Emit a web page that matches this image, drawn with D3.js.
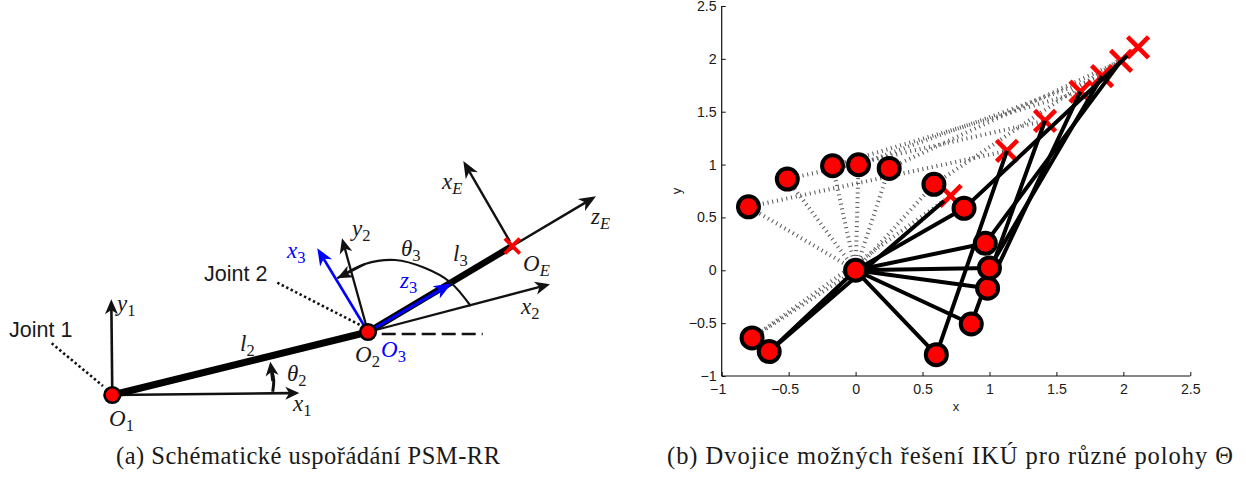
<!DOCTYPE html>
<html><head><meta charset="utf-8">
<script src="https://cdn.jsdelivr.net/npm/d3@7/dist/d3.min.js"></script>
<style>
html,body{margin:0;padding:0;background:#fff;overflow:hidden}
svg{display:block}
text{fill:#1a1a1a}
.sans{font-family:"Liberation Sans",Arial,sans-serif}
.serif{font-family:"Liberation Serif",serif}
.math{font-family:"Liberation Serif",serif;font-style:italic}
</style></head><body>
<svg id="c" width="1246" height="477"></svg>
<script>
// ---- (b) plot data ----
const xTicks=[-1,-0.5,0,0.5,1,1.5,2,2.5];
const yTicks=[-1,-0.5,0,0.5,1,1.5,2,2.5];
const xTickLabels=["\u22121","\u22120.5","0","0.5","1","1.5","2","2.5"];
const yTickLabels=["\u22121","\u22120.5","0","0.5","1","1.5","2","2.5"];
const targetX=[0.71,1.131,1.415,1.68,1.841,1.983,2.11];
const targetY=[0.705,1.13,1.414,1.69,1.836,1.981,2.108];
const upperElbowX=[-0.773,-0.80,-0.51,-0.172,0.022,0.251,0.585];
const upperElbowY=[-0.64,0.60,0.863,0.989,0.998,0.964,0.813];
const lowerElbowX=[-0.645,0.603,0.864,0.986,1.0,0.969,0.81];
const lowerElbowY=[-0.769,-0.798,-0.508,-0.17,0.022,0.255,0.586];
// ---- (a) schematic data (diagram units, O1 at origin, y up) ----
const O1=[0,0], O2=[255.7,63], OE=[400,149];
const x1Tip=[187,2], y1Tip=[-1,95.7];
const x2Tip=[437.7,110.7], y2Tip=[229.7,156.7];
const x3Tip=[205,146.7], z3Tip=[339.4,111.7];
const xEBase=[397.7,153.3], xETip=[351,234], zETip=[483.7,198.7];
const joint1=[[-60.6,51.7],[-9.3,9]], joint2=[[165,112.3],[247.7,70]];
const dashLine=[[269.4,61],[370.4,61]];
const theta2Arc=[[160.4,3.3],[161.4,15],[158,33.3]];
const theta3Arc=[[358.4,89],[337.7,113],[312.7,127],[282.7,135],[252.7,131],[225,116.7]];

const svg=d3.select("#c");
// scales
const xP=d3.scaleLinear().domain([-1,2.5]).range([721.7,1190.3]);
const yP=d3.scaleLinear().domain([-1,2.5]).range([376,6]);
const sx=d3.scaleLinear().domain([0,100]).range([112.3,212.3]);
const sy=d3.scaleLinear().domain([0,100]).range([395,295]);
const P=p=>[sx(p[0]),sy(p[1])];
const line=d3.line().x(d=>d[0]).y(d=>d[1]);

// arrow helper
function arrow(g,a,b,color,w,len,hw){
  const [x0,y0]=P(a),[x1,y1]=P(b);
  const dx=x1-x0,dy=y1-y0,L=Math.hypot(dx,dy),ux=dx/L,uy=dy/L;
  g.append("line").attr("x1",x0).attr("y1",y0).attr("x2",x1-ux*len*0.7).attr("y2",y1-uy*len*0.7)
    .attr("stroke",color).attr("stroke-width",w);
  const bx=x1-ux*len,by=y1-uy*len,ix=x1-ux*len*0.72,iy=y1-uy*len*0.72;
  g.append("path").attr("d",`M${x1},${y1}L${bx-uy*hw},${by+ux*hw}L${ix},${iy}L${bx+uy*hw},${by-ux*hw}Z`).attr("fill",color);
}
function cross(g,cx,cy,r,w){
  [[-1,-1,1,1],[-1,1,1,-1]].forEach(s=>g.append("line")
    .attr("x1",cx+s[0]*r).attr("y1",cy+s[1]*r).attr("x2",cx+s[2]*r).attr("y2",cy+s[3]*r)
    .attr("stroke","#ff0000").attr("stroke-width",w));
}
function mathLabel(g,x,y,base,sub,color,size){
  const t=g.append("text").attr("x",x).attr("y",y).attr("class","math").style("font-size",size+"px").style("fill",color||"#1a1a1a");
  t.append("tspan").text(base);
  if(sub) t.append("tspan").attr("dy",size*0.22).style("font-size",size*0.72+"px").style("font-style",/[0-9]/.test(sub)?"normal":"italic").text(sub);
}

// ---------- (a) ----------
const a=svg.append("g");
[joint1,joint2].forEach(j=>a.append("path").attr("d",line(j.map(P))).attr("fill","none")
  .attr("stroke","#111").attr("stroke-width",2.6).attr("stroke-dasharray","2.4 2.6"));
a.append("path").attr("d",line(dashLine.map(P))).attr("stroke","#111").attr("stroke-width",2.4).attr("stroke-dasharray","14 6").attr("fill","none");
arrow(a,O1,x1Tip,"#111",2.6,14,6.5);
arrow(a,O1,y1Tip,"#111",2.6,15,6.5);
a.append("path").attr("d",line([O1,O2].map(P))).attr("stroke","#000").attr("stroke-width",7);
a.append("path").attr("d",line([O2,OE].map(P))).attr("stroke","#000").attr("stroke-width",6.5);
arrow(a,O2,x2Tip,"#111",2.3,15,6.5);
arrow(a,O2,y2Tip,"#111",2.3,15,6.5);
arrow(a,O2,x3Tip,"#0000ff",2.6,17,7);
arrow(a,O2,z3Tip,"#0000ff",3,18,7);
arrow(a,xEBase,xETip,"#111",2.4,17,7);
arrow(a,OE,zETip,"#111",2.4,17,7);
a.append("path").attr("d",d3.line().curve(d3.curveCatmullRom)(theta3Arc.map(P))).attr("fill","none").attr("stroke","#111").attr("stroke-width",2.2);
arrow(a,theta3Arc[4],theta3Arc[5],"#111",2.2,15,6.5);
a.append("path").attr("d",d3.line().curve(d3.curveCatmullRom)(theta2Arc.slice(0,2).concat([[159.5,24]]).map(P))).attr("fill","none").attr("stroke","#111").attr("stroke-width",3);
arrow(a,[160.5,14],theta2Arc[2],"#111",3,14,6.5);
cross(a,sx(OE[0]),sy(OE[1]),7.5,3.8);
[O1,O2].forEach(o=>a.append("circle").attr("cx",sx(o[0])).attr("cy",sy(o[1])).attr("r",7.8).attr("fill","#ff0000").attr("stroke","#000").attr("stroke-width",2.6));
a.append("text").attr("class","sans").attr("x",9).attr("y",337).style("font-size","21.5px").text("Joint 1");
a.append("text").attr("class","sans").attr("x",204).attr("y",281).style("font-size","21.5px").text("Joint 2");
const fs=23;
mathLabel(a,117,311,"y","1","#1a1a1a",fs);
mathLabel(a,293,411,"x","1","#1a1a1a",fs);
mathLabel(a,109,426,"O","1","#1a1a1a",fs);
mathLabel(a,240,351,"l","2","#1a1a1a",fs);
mathLabel(a,287,381,"θ","2","#1a1a1a",fs);
mathLabel(a,355,362,"O","2","#1a1a1a",fs);
mathLabel(a,381,357,"O","3","#0000ff",fs);
mathLabel(a,352,236,"y","2","#1a1a1a",fs);
mathLabel(a,287,258,"x","3","#0000ff",fs);
mathLabel(a,401,256,"θ","3","#1a1a1a",fs);
mathLabel(a,453,261,"l","3","#1a1a1a",fs);
mathLabel(a,400,288,"z","3","#0000ff",fs);
mathLabel(a,521,314,"x","2","#1a1a1a",fs);
mathLabel(a,442,189,"x","E","#1a1a1a",fs);
mathLabel(a,591,224,"z","E","#1a1a1a",fs);
mathLabel(a,523,271,"O","E","#1a1a1a",fs);
a.append("text").attr("class","serif").attr("x",116).attr("y",464).attr("textLength",384).attr("lengthAdjust","spacing").style("font-size","24.5px").text("(a) Schématické uspořádání PSM-RR");

// ---------- (b) ----------
const b=svg.append("g");
const Xt=d3.axisBottom(xP).tickValues(xTicks).tickSize(-4).tickFormat((d,i)=>xTickLabels[i]);
const Yt=d3.axisLeft(yP).tickValues(yTicks).tickSize(-4).tickFormat((d,i)=>yTickLabels[i]);
const gx=b.append("g").attr("transform",`translate(0,${yP(-1)})`).call(Xt);
const gy=b.append("g").attr("transform",`translate(${xP(-1)},0)`).call(Yt);
[gx,gy].forEach(g=>{
  g.selectAll("path.domain").attr("stroke","#111").attr("stroke-width",1.2).attr("d",g===gx?`M${xP(-1)},0H${xP(2.5)}`:`M0,${yP(-1)}V${yP(2.5)}`);
  g.selectAll(".tick line").attr("stroke","#111");
  g.selectAll("text").attr("class","sans").style("font-size","14.2px").style("fill","#1a1a1a");
});
gx.selectAll("text").attr("y",8).attr("dy","0.71em").attr("dx",d=>d<0?-4:0);
gy.selectAll("text").attr("x",-5);
b.append("text").attr("class","sans").attr("x",956).attr("y",411).attr("text-anchor","middle").style("font-size","13px").text("x");
b.append("text").attr("class","sans").attr("transform",`translate(681,191) rotate(-90)`).attr("text-anchor","middle").style("font-size","13px").text("y");

const idx=d3.range(targetX.length);
const org=[xP(0),yP(0)];
// dotted (upper) solutions
const dot=b.append("g");
idx.forEach(i=>{
  dot.append("path").attr("d",line([org,[xP(upperElbowX[i]),yP(upperElbowY[i])],[xP(targetX[i]),yP(targetY[i])]]))
    .attr("fill","none").attr("stroke","#555").attr("stroke-width",4).attr("stroke-dasharray","1 3.8");
});
// crosses
idx.forEach(i=>cross(b,xP(targetX[i]),yP(targetY[i]),10.5,4.6));
// solid (lower) solutions
idx.forEach(i=>{
  const t=i===6?[xP(2.03),yP(2.03)]:i===0?[xP(0.66),yP(0.655)]:[xP(targetX[i]),yP(targetY[i])];
  b.append("path").attr("d",line([org,[xP(lowerElbowX[i]),yP(lowerElbowY[i])],t]))
    .attr("fill","none").attr("stroke","#000").attr("stroke-width",4).attr("stroke-linejoin","round");
});
// joints
const circ=(x,y)=>b.append("circle").attr("cx",xP(x)).attr("cy",yP(y)).attr("r",10.5).attr("fill","#ff0000").attr("stroke","#000").attr("stroke-width",4);
idx.forEach(i=>{circ(upperElbowX[i],upperElbowY[i]);circ(lowerElbowX[i],lowerElbowY[i]);});
circ(0,0);
b.append("text").attr("class","serif").attr("x",667).attr("y",464).attr("textLength",566).attr("lengthAdjust","spacing").style("font-size","24.5px").text("(b) Dvojice možných řešení IKÚ pro různé polohy Θ");
</script>
</body></html>
